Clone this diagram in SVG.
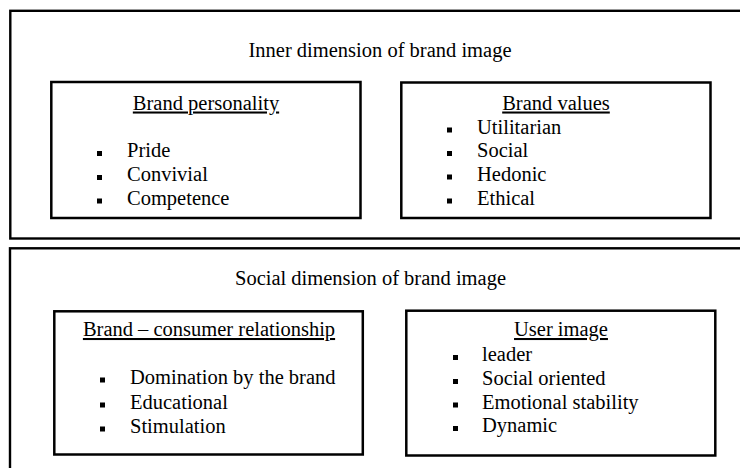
<svg xmlns="http://www.w3.org/2000/svg" width="740" height="468" viewBox="0 0 740 468">
<style>
.bg{fill:#ffffff}
.outer{fill:none;stroke:#000;stroke-width:2.4}
.box{fill:#fff;stroke:#000;stroke-width:2.5}
text{font-family:"Liberation Serif","Times New Roman",serif;font-size:20.5px;fill:#000}
.mid{text-anchor:middle}
.ul{text-decoration:underline}
.b{fill:#000}
</style>
<rect class="bg" x="0" y="0" width="740" height="468"/>
<g id="inner-dimension">
  <rect class="outer" x="10.3" y="10.8" width="800" height="227.7"/>
  <text class="mid" x="380" y="57">Inner dimension of brand image</text>
</g>
<g id="social-dimension">
  <rect class="outer" x="10" y="248.3" width="800" height="300"/>
  <text class="mid" x="370.5" y="285">Social dimension of brand image</text>
</g>
<g id="brand-personality">
  <rect class="box" x="51.3" y="82" width="309.2" height="136"/>
  <text class="mid ul" x="206" y="109.5">Brand personality</text>
  <rect class="b" x="97" y="151" width="5" height="5"/>
  <text x="127" y="157">Pride</text>
  <rect class="b" x="97" y="175" width="5" height="5"/>
  <text x="127" y="181">Convivial</text>
  <rect class="b" x="97" y="198.5" width="5" height="5"/>
  <text x="127" y="204.5">Competence</text>
</g>
<g id="brand-values">
  <rect class="box" x="401.3" y="82.5" width="309.2" height="135.5"/>
  <text class="mid ul" x="556" y="109.5">Brand values</text>
  <rect class="b" x="447" y="127.5" width="5" height="5"/>
  <text x="477" y="133.5">Utilitarian</text>
  <rect class="b" x="447" y="151" width="5" height="5"/>
  <text x="477" y="157">Social</text>
  <rect class="b" x="447" y="174.5" width="5" height="5"/>
  <text x="477" y="180.5">Hedonic</text>
  <rect class="b" x="447" y="198.5" width="5" height="5"/>
  <text x="477" y="204.5">Ethical</text>
</g>
<g id="brand-consumer-relationship">
  <rect class="box" x="54.3" y="311.3" width="308.5" height="143.2"/>
  <text class="mid ul" x="209" y="336">Brand – consumer relationship</text>
  <rect class="b" x="100" y="377.5" width="5" height="5"/>
  <text x="130" y="383.5">Domination by the brand</text>
  <rect class="b" x="100" y="402.5" width="5" height="5"/>
  <text x="130" y="408.5">Educational</text>
  <rect class="b" x="100" y="426.5" width="5" height="5"/>
  <text x="130" y="432.5">Stimulation</text>
</g>
<g id="user-image">
  <rect class="box" x="406.3" y="310.7" width="309" height="144.8"/>
  <text class="mid ul" x="561" y="336">User image</text>
  <rect class="b" x="453" y="355" width="5" height="5"/>
  <text x="482" y="361">leader</text>
  <rect class="b" x="453" y="379" width="5" height="5"/>
  <text x="482" y="385">Social oriented</text>
  <rect class="b" x="453" y="402.5" width="5" height="5"/>
  <text x="482" y="408.5">Emotional stability</text>
  <rect class="b" x="453" y="426" width="5" height="5"/>
  <text x="482" y="432">Dynamic</text>
</g>
</svg>
